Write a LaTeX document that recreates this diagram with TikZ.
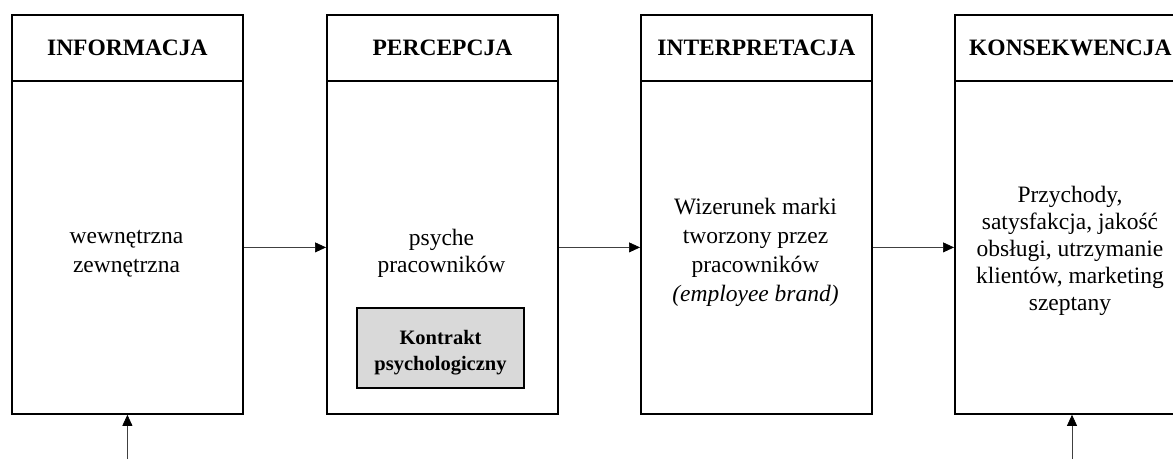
\documentclass[tikz,border=0pt]{standalone}
\usepackage{fontspec}
\setmainfont{Liberation Serif}
\usetikzlibrary{arrows.meta}
\begin{document}
\begin{tikzpicture}[x=1pt,y=-1pt,
  head/.style={draw, line width=1.8pt, minimum width=231pt, minimum height=66pt, inner sep=0pt, anchor=north west,
    font=\fontsize{23.5}{27}\selectfont\bfseries},
  body/.style={draw, line width=1.8pt, minimum width=231pt, minimum height=333pt, inner sep=0pt, anchor=north west},
  bodytxt/.style={align=center, inner sep=0pt, font=\fontsize{23.5}{27}\selectfont},
  graybox/.style={draw, line width=1.6pt, fill=black!15, minimum width=167pt, minimum height=80pt, inner sep=0pt},
  graytxt/.style={align=center, inner sep=0pt, font=\fontsize{20.5}{26}\selectfont\bfseries},
  arr/.style={-{Triangle[length=11pt,width=10pt,black]}, line width=0.7pt, draw=black!75}
]
\useasboundingbox (0,0) rectangle (1173,459);
% headers
\node[head] (h1) at (11,14) {INFORMACJA};
\node[head] (h2) at (326,14) {PERCEPCJA};
\node[head] (h3) at (640,14) {INTERPRETACJA};
\node[head] (h4) at (954,14) {KONSEKWENCJA};
% bodies
\node[body] (b1) at (11,80) {};
\node[body] (b2) at (326,80) {};
\node[body] (b3) at (640,80) {};
\node[body] (b4) at (954,80) {};
% texts
\node[bodytxt, font=\fontsize{23.5}{29}\selectfont] (t1) at (126.5,253.5) {wewnętrzna\\zewnętrzna};
\node[bodytxt] (t2) at (441.5,253) {psyche\\pracowników};
\node[bodytxt, font=\fontsize{23.5}{29}\selectfont] (t3) at (755.5,252.5) {Wizerunek marki\\tworzony przez\\pracowników\\\textit{(employee brand)}};
\node[bodytxt] (t4) at (1070,250.5) {Przychody,\\satysfakcja, jakość\\obsługi, utrzymanie\\klientów, marketing\\szeptany};
% gray box
\node[graybox] (k) at (440.5,348) {};
\node[graytxt] (kt) at (440.5,353) {Kontrakt\\psychologiczny};
% connectors
\draw[arr] (b1) -- (b2);
\draw[arr] (b2) -- (b3);
\draw[arr] (b3) -- (b4);
\coordinate (s1) at (b1.center |- 0,459);
\coordinate (s4) at (1072,459);
\draw[arr] (s1) -- (b1.south);
\draw[arr] (s4) -- (s4 |- b4.south);
\end{tikzpicture}
\end{document}
